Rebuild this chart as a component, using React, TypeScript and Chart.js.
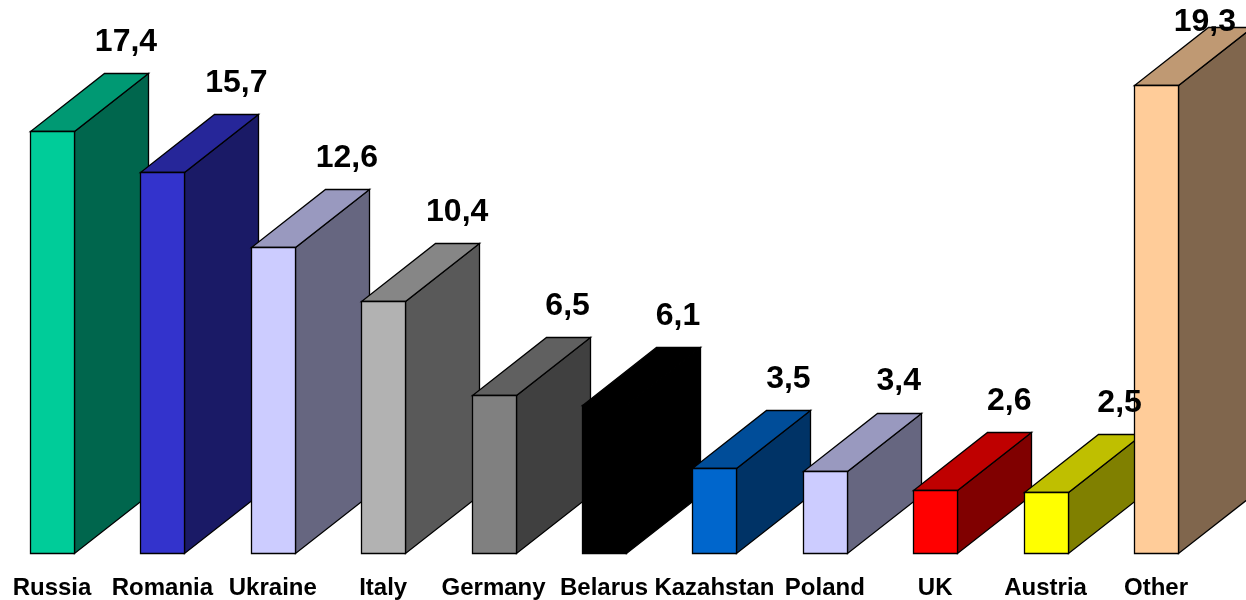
import { useEffect, useRef } from "react";
import { Chart, registerables } from "chart.js";

Chart.register(...registerables);

// ---- data ----
const categories = [
  "Russia",
  "Romania",
  "Ukraine",
  "Italy",
  "Germany",
  "Belarus",
  "Kazahstan",
  "Poland",
  "UK",
  "Austria",
  "Other",
];
const shares = [17.4, 15.7, 12.6, 10.4, 6.5, 6.1, 3.5, 3.4, 2.6, 2.5, 19.3];

// ---- styles ----
const frontColors = [
  "#00CC99",
  "#3333CC",
  "#CCCCFF",
  "#B2B2B2",
  "#808080",
  "#000000",
  "#0066CC",
  "#CCCCFF",
  "#FF0000",
  "#FFFF00",
  "#FFCC99",
];
const DEPTH_X = 74;
const DEPTH_Y = 58;
const FONT = '"Liberation Sans", Arial, Helvetica, sans-serif';

function shade(hex: string, f: number): string {
  const n = parseInt(hex.slice(1), 16);
  const r = Math.round(((n >> 16) & 255) * f);
  const g = Math.round(((n >> 8) & 255) * f);
  const b = Math.round((n & 255) * f);
  return `rgb(${r},${g},${b})`;
}

const box3dPlugin = {
  id: "box3d",
  afterDatasetsDraw(chart: any) {
    const ctx: CanvasRenderingContext2D = chart.ctx;
    const meta = chart.getDatasetMeta(0);
    const poly = (pts: number[][], fill: string) => {
      ctx.beginPath();
      ctx.moveTo(pts[0][0], pts[0][1]);
      for (let k = 1; k < pts.length; k++) ctx.lineTo(pts[k][0], pts[k][1]);
      ctx.closePath();
      ctx.fillStyle = fill;
      ctx.fill();
      ctx.stroke();
    };
    ctx.save();
    ctx.lineWidth = 1.3;
    ctx.strokeStyle = "#000";
    ctx.lineJoin = "miter";
    meta.data.forEach((el: any, i: number) => {
      const { x, y, base, width } = el.getProps(["x", "y", "base", "width"], true);
      const x0 = Math.round(x - width / 2) + 0.5;
      const x1 = Math.round(x + width / 2) + 0.5;
      const top = Math.round(y) + 0.5;
      const bot = Math.round(base) + 0.5;
      const c = frontColors[i];
      poly(
        [
          [x1, top],
          [x1 + DEPTH_X, top - DEPTH_Y],
          [x1 + DEPTH_X, bot - DEPTH_Y],
          [x1, bot],
        ],
        shade(c, 0.5)
      );
      poly(
        [
          [x0, top],
          [x1, top],
          [x1 + DEPTH_X, top - DEPTH_Y],
          [x0 + DEPTH_X, top - DEPTH_Y],
        ],
        shade(c, 0.75)
      );
      poly(
        [
          [x0, top],
          [x1, top],
          [x1, bot],
          [x0, bot],
        ],
        c
      );
    });

    ctx.font = `bold 32px ${FONT}`;
    ctx.textAlign = "center";
    ctx.textBaseline = "middle";
    ctx.fillStyle = "#000";
    meta.data.forEach((el: any, i: number) => {
      const text = shares[i].toFixed(1).replace(".", ",");
      const w = ctx.measureText(text).width;
      let lx = el.x + DEPTH_X;
      let ly = el.y - DEPTH_Y - 31;
      lx = Math.min(lx, chart.width - 10 - w / 2);
      ly = Math.max(ly, 22);
      ctx.fillText(text, lx, ly);
    });
    ctx.restore();
  },
};

export default function App() {
  const canvasRef = useRef<HTMLCanvasElement | null>(null);

  useEffect(() => {
    if (!canvasRef.current) return;
    const chart = new Chart(canvasRef.current, {
      type: "bar",
      data: {
        labels: categories,
        datasets: [
          {
            data: shares,
            backgroundColor: "rgba(0,0,0,0)",
            borderWidth: 0,
            barPercentage: 0.5,
            categoryPercentage: 0.8,
          },
        ],
      },
      options: {
        animation: false,
        responsive: true,
        maintainAspectRatio: false,
        layout: { padding: { left: 52, right: 90, top: 0, bottom: 0 } },
        plugins: {
          legend: { display: false },
          tooltip: { enabled: false },
          title: { display: false },
        },
        scales: {
          x: {
            offset: false,
            grid: { display: false, drawTicks: false },
            border: { display: false },
            afterFit: (scale: any) => {
              scale.height = 47;
              scale.paddingLeft = 0;
              scale.paddingRight = 0;
            },
            ticks: {
              autoSkip: false,
              maxRotation: 0,
              minRotation: 0,
              padding: 21,
              color: "#000",
              font: { family: FONT, size: 24, weight: "bold" },
            },
          },
          y: {
            display: false,
            min: 0,
            max: 22.8,
            grid: { display: false },
          },
        },
      },
      plugins: [box3dPlugin],
    });
    return () => chart.destroy();
  }, []);

  return (
    <div
      style={{
        position: "absolute",
        left: 0,
        top: 0,
        width: 1246,
        height: 600,
        background: "#fff",
      }}
    >
      <canvas ref={canvasRef} />
    </div>
  );
}
